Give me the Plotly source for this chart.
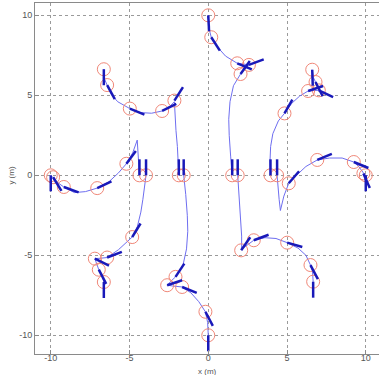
import numpy as np
import plotly.graph_objects as go

# ---------------- data (metres / degrees) ----------------
tick_vals = [-10, -5, 0, 5, 10]
tick_text = ["-10", "-5", "0", "5", "10"]

# Robot 1 (top-left start)
r1_path_x = [-6.63, -6.58, -6.42, -6.15, -5.75, -4.98, -4.3, -3.6, -2.93, -2.45, -2.15, -2.12, -2.05, -1.96, -1.9, -1.87]
r1_path_y = [6.63, 6.0, 5.64, 5.05, 4.6, 4.17, 3.92, 3.88, 4.02, 4.3, 4.6, 3.8, 2.8, 1.8, 0.9, 0.0]
r1_pose_x = [-6.63, -6.42, -4.98, -2.93, -2.15, -1.87]
r1_pose_y = [6.63, 5.64, 4.17, 4.02, 4.67, 0.0]
r1_pose_th = [-90, -61, -22, 26, 57, 90]

# Robot 2 (top start)
r2_path_x = [0.0, 0.04, 0.19, 0.6, 1.1, 1.84, 2.25, 2.58, 2.3, 2.05, 1.6, 1.38, 1.3, 1.33, 1.42, 1.52]
r2_path_y = [10.0, 9.2, 8.63, 8.0, 7.45, 7.0, 6.95, 6.9, 6.6, 6.33, 5.6, 4.6, 3.5, 2.5, 1.2, 0.0]
r2_pose_x = [0.0, 0.19, 1.84, 2.58, 2.05, 1.52]
r2_pose_y = [10.0, 8.63, 7.0, 6.9, 6.33, 0.0]
r2_pose_th = [-87, -57, -22, 20, 54, 90]

# Robot 3 (left start)
r3_path_x = [-10.0, -9.85, -9.5, -9.17, -8.5, -7.8, -7.05, -6.3, -5.7, -5.2, -4.8, -4.51, -4.46, -4.41, -4.37]
r3_path_y = [0.0, -0.15, -0.5, -0.73, -1.08, -1.02, -0.8, -0.4, 0.15, 0.72, 1.4, 2.2, 1.5, 0.8, 0.0]
r3_pose_x = [-10.0, -9.85, -9.17, -7.05, -5.2, -4.37]
r3_pose_y = [0.0, -0.12, -0.73, -0.8, 0.72, 0.0]
r3_pose_th = [-90, -58, -20, 25, 53, 90]

# Robot 4 (bottom-left start)
r4_path_x = [-6.63, -6.75, -6.95, -7.1, -7.2, -6.8, -6.42, -5.7, -5.2, -4.83, -4.5, -4.28, -4.15, -4.03, -3.95]
r4_path_y = [-6.67, -6.2, -5.9, -5.5, -5.21, -5.18, -5.14, -4.65, -4.2, -3.86, -3.2, -2.3, -1.5, -0.7, 0.0]
r4_pose_x = [-6.63, -6.95, -7.2, -6.42, -4.83, -3.95]
r4_pose_y = [-6.67, -5.9, -5.21, -5.14, -3.86, 0.0]
r4_pose_th = [-90, -62, -26, 21, 58, 90]

# Robot 5 (bottom start)
r5_path_x = [0.0, -0.04, -0.18, -0.6, -1.1, -1.66, -2.25, -2.61, -2.35, -2.08, -1.6, -1.38, -1.3, -1.33, -1.43, -1.56]
r5_path_y = [-10.0, -9.2, -8.53, -7.9, -7.35, -6.98, -6.92, -6.87, -6.6, -6.35, -5.6, -4.6, -3.5, -2.5, -1.2, 0.0]
r5_pose_x = [0.0, -0.18, -1.66, -2.61, -2.08, -1.56]
r5_pose_y = [-10.0, -8.53, -6.98, -6.87, -6.35, 0.0]
r5_pose_th = [-90, -62, -22, 18, 56, 90]

# Robot 6 (bottom-right start)
r6_path_x = [6.66, 6.62, 6.49, 6.2, 5.7, 5.01, 4.3, 3.6, 2.89, 2.45, 2.12, 2.12, 2.05, 1.98, 1.92, 1.87]
r6_path_y = [-6.65, -6.0, -5.61, -5.0, -4.55, -4.21, -3.95, -3.9, -4.06, -4.35, -4.62, -3.8, -2.8, -1.8, -0.9, 0.0]
r6_pose_x = [6.66, 6.49, 5.01, 2.89, 2.09, 1.87]
r6_pose_y = [-6.65, -5.61, -4.21, -4.06, -4.69, 0.0]
r6_pose_th = [-90, -62, -16, 20, 55, 90]

# Robot 7 (right start)
r7_path_x = [10.0, 9.85, 9.55, 9.24, 8.5, 7.7, 6.92, 6.2, 5.6, 5.11, 4.8, 4.58, 4.5, 4.43, 4.37]
r7_path_y = [0.0, 0.15, 0.55, 0.83, 1.08, 1.08, 0.96, 0.55, 0.0, -0.5, -1.3, -2.2, -1.5, -0.75, 0.0]
r7_pose_x = [10.0, 9.85, 9.24, 6.92, 5.11, 4.37]
r7_pose_y = [0.0, 0.12, 0.83, 0.96, -0.5, 0.0]
r7_pose_th = [-90, -66, -22, 22, 49, 90]

# Robot 8 (top-right start)
r8_path_x = [6.6, 6.68, 6.81, 6.95, 7.02, 6.7, 6.34, 5.8, 5.3, 4.84, 4.45, 4.1, 3.96, 3.92, 3.95]
r8_path_y = [6.6, 6.1, 5.83, 5.5, 5.31, 5.3, 5.27, 4.95, 4.5, 3.87, 3.4, 2.6, 1.8, 0.9, 0.0]
r8_pose_x = [6.6, 6.81, 7.02, 6.34, 4.84, 3.95]
r8_pose_y = [6.6, 5.83, 5.31, 5.27, 3.87, 0.0]
r8_pose_th = [-88, -63, -25, 18, 60, 90]

heading_len = 1.0

robots = [
    (r1_path_x, r1_path_y, r1_pose_x, r1_pose_y, r1_pose_th),
    (r2_path_x, r2_path_y, r2_pose_x, r2_pose_y, r2_pose_th),
    (r3_path_x, r3_path_y, r3_pose_x, r3_pose_y, r3_pose_th),
    (r4_path_x, r4_path_y, r4_pose_x, r4_pose_y, r4_pose_th),
    (r5_path_x, r5_path_y, r5_pose_x, r5_pose_y, r5_pose_th),
    (r6_path_x, r6_path_y, r6_pose_x, r6_pose_y, r6_pose_th),
    (r7_path_x, r7_path_y, r7_pose_x, r7_pose_y, r7_pose_th),
    (r8_path_x, r8_path_y, r8_pose_x, r8_pose_y, r8_pose_th),
]

PATH_COLOR = "rgb(110,110,240)"
BAR_COLOR = "rgb(25,25,185)"
CIRCLE_COLOR = "rgb(240,135,120)"

fig = go.Figure()

# thin paths
for px, py, _, _, _ in robots:
    fig.add_trace(go.Scatter(x=px, y=py, mode="lines",
                             line=dict(color=PATH_COLOR, width=1),
                             hoverinfo="skip", showlegend=False))

# circles (robot positions)
all_x = np.concatenate([np.array(r[2], float) for r in robots])
all_y = np.concatenate([np.array(r[3], float) for r in robots])
all_th = np.concatenate([np.array(r[4], float) for r in robots])
fig.add_trace(go.Scatter(x=all_x, y=all_y, mode="markers",
                         marker=dict(symbol="circle-open", size=13,
                                     color=CIRCLE_COLOR, line=dict(width=1)),
                         hoverinfo="skip", showlegend=False))

# heading bars
bx, by = [], []
for x0, y0, th in zip(all_x, all_y, all_th):
    t = np.deg2rad(th)
    bx += [x0, x0 + heading_len * np.cos(t), None]
    by += [y0, y0 + heading_len * np.sin(t), None]
fig.add_trace(go.Scatter(x=bx, y=by, mode="lines",
                         line=dict(color=BAR_COLOR, width=2.5),
                         hoverinfo="skip", showlegend=False))

FONT = "Liberation Sans, Arial, sans-serif"
axis_common = dict(
    tickvals=tick_vals, ticktext=tick_text,
    showgrid=True, gridcolor="#9a9a9a", griddash="dot", gridwidth=1,
    zeroline=False, showline=True, linecolor="#8a8a8a", linewidth=1,
    ticks="inside", ticklen=4, tickcolor="#8a8a8a",
    tickfont=dict(family=FONT, size=9, color="#555555"),
    automargin=False,
)

fig.update_layout(
    template="none",
    width=379, height=375,
    margin=dict(l=35, r=0, t=3, b=21, pad=0),
    paper_bgcolor="white", plot_bgcolor="white",
    xaxis=dict(range=[-11, 10.84], mirror=True, ticklabelstandoff=-5, **axis_common),
    yaxis=dict(range=[-11.17, 10.77], mirror=False, **axis_common),
    annotations=[
        dict(text="x (m)", xref="paper", yref="paper", x=0.5, y=-0.049,
             xanchor="center", yanchor="middle", showarrow=False,
             font=dict(family=FONT, size=8, color="#555555")),
        dict(text="y (m)", xref="paper", yref="paper", x=-0.068, y=0.51,
             xanchor="center", yanchor="middle", showarrow=False, textangle=-90,
             font=dict(family=FONT, size=8, color="#555555")),
    ],
)

fig.write_html(
    "out.html",
    config={"displayModeBar": False},
    post_script="document.body.style.margin='0px'; document.body.style.overflow='hidden';",
)
